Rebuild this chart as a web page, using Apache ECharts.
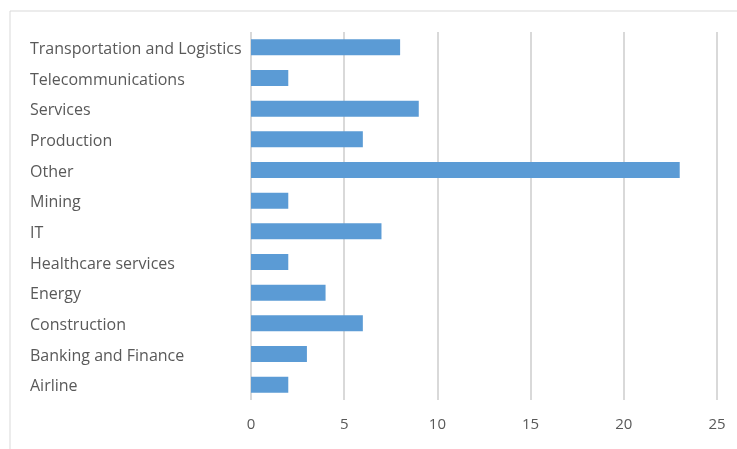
<!DOCTYPE html>
<html><head><meta charset="utf-8">
<script src="https://cdn.jsdelivr.net/npm/echarts@6/dist/echarts.min.js"></script>
<style>html,body{margin:0;padding:0;background:#fff}#c{width:737px;height:449px}</style>
</head><body><div id="c"></div>
<script>
const categories = ["Airline","Banking and Finance","Construction","Energy","Healthcare services","IT","Mining","Other","Production","Services","Telecommunications","Transportation and Logistics"];
const values = [2,3,6,4,2,7,2,23,6,9,2,8];
const xTicks = [0,5,10,15,20,25];

const chart = echarts.init(document.getElementById('c'), null, {renderer:'canvas'});
chart.setOption({
  animation:false,
  graphic:[{type:'rect',shape:{x:10,y:11,width:740,height:460},style:{fill:'none',stroke:'#d9d9d9',lineWidth:1},silent:true}],
  grid:{left:251,right:20,top:32,bottom:49,containLabel:false},
  xAxis:{type:'value',min:xTicks[0],max:xTicks[xTicks.length-1],interval:5,
    axisLine:{show:false},axisTick:{show:false},
    splitLine:{lineStyle:{color:'#d9d9d9',width:2}},
    axisLabel:{color:'#595959',fontFamily:'Open Sans',fontSize:15,margin:17}},
  yAxis:{type:'category',data:categories,
    axisLine:{show:false},axisTick:{show:false},
    axisLabel:{align:'left',margin:221,formatter:'{a|{value}}',
      rich:{a:{color:'#595959',fontFamily:'Open Sans',fontSize:16,align:'left',padding:[4,0,0,0]}}}},
  series:[{type:'bar',data:values,barWidth:16,itemStyle:{color:'#5b9bd5'}}]
});
</script></body></html>
